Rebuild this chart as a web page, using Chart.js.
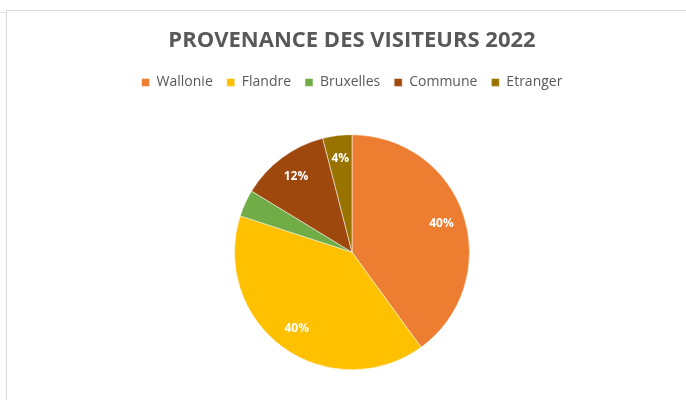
<!DOCTYPE html>
<html>
<head>
<meta charset="utf-8">
<script src="https://cdn.jsdelivr.net/npm/chart.js@4/dist/chart.umd.min.js"></script>
<style>
  html, body { margin: 0; padding: 0; background: #ffffff; }
  #wrap { position: relative; width: 686px; height: 400px; overflow: hidden; }
  #frame { position: absolute; left: 6px; top: 10px; right: -2px; bottom: -2px;
           border-top: 1px solid #d9d9d9; border-left: 1px solid #d9d9d9; }
  #tick { position: absolute; left: 0; top: 12px; width: 6px; border-top: 1px solid #e3e3e3; }
  canvas { position: absolute; left: 0; top: 0; }
</style>
</head>
<body>
<div id="wrap">
  <div id="frame"></div>
  <div id="tick"></div>
  <canvas id="c" width="686" height="400"></canvas>
</div>
<script>
const titleText = "PROVENANCE DES VISITEURS 2022";
const categories = ["Wallonie", "Flandre", "Bruxelles", "Commune", "Etranger"];
const values = [40, 40, 3.7, 12.3, 4];
const valueLabels = ["40%", "40%", "", "12%", "4%"];
const colors = ["#ED7D31", "#FFC000", "#70AD47", "#9E480E", "#997300"];

const legendSpacer = {
  id: 'legendSpacer',
  beforeInit(chart) {
    const orig = chart.legend.fit;
    chart.legend.fit = function () {
      orig.bind(chart.legend)();
      this.height += 35;
    };
  }
};

const sliceLabels = {
  id: 'sliceLabels',
  afterDatasetsDraw(chart) {
    const ctx = chart.ctx;
    const meta = chart.getDatasetMeta(0);
    ctx.save();
    ctx.fillStyle = '#ffffff';
    ctx.font = 'bold 12px "Open Sans", sans-serif';
    ctx.textAlign = 'center';
    ctx.textBaseline = 'middle';
    meta.data.forEach((arc, i) => {
      const txt = valueLabels[i];
      if (!txt) return;
      const p = arc.getProps(['x', 'y', 'startAngle', 'endAngle', 'outerRadius'], true);
      const mid = (p.startAngle + p.endAngle) / 2;
      const r = p.outerRadius * 0.8;
      ctx.fillText(txt, p.x + Math.cos(mid) * r, p.y + Math.sin(mid) * r);
    });
    ctx.restore();
  }
};

new Chart(document.getElementById('c'), {
  type: 'pie',
  data: {
    labels: categories,
    datasets: [{
      data: values,
      backgroundColor: colors,
      borderColor: '#ffffff',
      borderWidth: 0.5
    }]
  },
  options: {
    responsive: false,
    animation: false,
    layout: { padding: { top: 28, left: 18, right: 0, bottom: 30 } },
    plugins: {
      title: {
        display: true,
        text: titleText,
        color: '#595959',
        font: { family: '"Open Sans", sans-serif', size: 22, weight: 'bold' },
        padding: { top: 0, bottom: 7 }
      },
      legend: {
        position: 'top',
        labels: {
          color: '#595959',
          font: { family: '"Open Sans", sans-serif', size: 14 },
          boxWidth: 8,
          boxHeight: 8,
          padding: 14
        }
      },
      tooltip: { enabled: false }
    }
  },
  plugins: [legendSpacer, sliceLabels]
});
</script>
</body>
</html>
